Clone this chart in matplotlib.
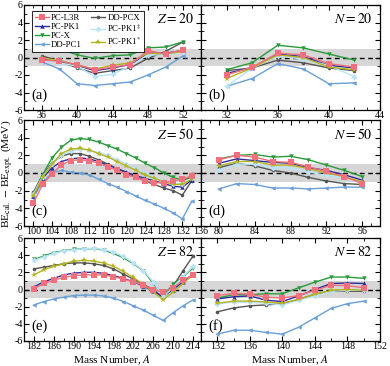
import matplotlib
matplotlib.use("Agg")
import matplotlib.pyplot as plt
from matplotlib.ticker import MultipleLocator

plt.rcParams['font.family'] = ['Liberation Serif', 'DejaVu Serif']
plt.rcParams['mathtext.fontset'] = 'stix'
plt.rcParams['axes.unicode_minus'] = False

# ---------------- data ----------------
series_names = ["PC-L3R", "PC-PK1", "PC-X", "DD-PC1", "DD-PCX", "PC-PK1$^{\\ddag}$", "PC-PK1$^{*}$"]

# (a) Z = 20
A_a = [36, 38, 40, 42, 44, 46, 48, 50, 52]
a_L3R = [-0.3, -0.4, -0.8, -1.4, -1.1, -0.8, 0.8, 0.4, 0.9]
a_PK1 = [-0.2, -0.4, -0.9, -1.5, -1.2, -0.8, 0.5, 0.5, 0.8]
a_X = [1.0, 1.0, 0.3, -0.1, 0.2, 0.3, 1.1, 1.2, 1.8]
a_DDPC1 = [-0.5, -1.3, -3.0, -3.2, -3.0, -2.8, -2.0, -1.1, 0.2]
a_DDPCX = [0.2, -0.4, -1.2, -1.8, -1.5, -1.2, -0.1, 0.7, 1.8]
a_PK1dd = [-0.4, -0.6, -1.0, -2.2, -1.9, -1.0, 0.3, 0.3, 0.6]
a_PK1s = [-0.1, -0.3, -0.9, -1.3, -0.9, -0.6, 0.5, 0.4, 0.7]

# (b) N = 20
A_b = [32, 34, 36, 38, 40, 42]
b_L3R = [-2.0, -1.1, 0.5, 0.3, -0.7, -1.1]
b_PK1 = [-1.8, -1.2, 0.4, 0.1, -0.9, -1.2]
b_X = [-1.4, -0.6, 1.4, 1.1, 0.4, -0.3]
b_DDPC1 = [-3.3, -2.4, -0.7, -1.3, -3.0, -2.9]
b_DDPCX = [-1.5, -1.2, -0.3, -0.6, -1.2, -1.5]
b_PK1dd = [-3.3, -1.2, 0.2, -0.2, -0.9, -2.2]
b_PK1s = [-2.4, -1.2, 0.3, 0.0, -1.1, -1.4]

# (c) Z = 50
A_c = [100, 102, 104, 106, 108, 110, 112, 114, 116, 118, 120, 122, 124, 126, 128, 130, 132, 134]
c_L3R = [-3.4, -1.3, -0.1, 0.9, 1.4, 1.5, 1.4, 1.1, 0.7, 0.3, -0.2, -0.5, -0.9, -1.1, -1.1, -0.9, -0.7, -0.3]
c_PK1 = [-2.6, -0.6, 0.6, 1.3, 1.6, 1.7, 1.6, 1.3, 0.9, 0.5, 0.1, -0.3, -0.6, -0.9, -1.2, -1.5, -1.6, -0.8]
c_X = [-2.5, -0.2, 1.7, 2.9, 3.7, 3.9, 3.8, 3.5, 3.1, 2.7, 2.2, 1.7, 1.1, 0.6, 0.0, -0.5, -0.8, -0.5]
c_DDPC1 = [-2.8, -1.0, 0.0, 0.3, 0.1, 0.0, -0.2, -0.7, -1.2, -1.6, -2.1, -2.6, -3.1, -3.5, -4.0, -4.5, -5.2, -3.2]
c_DDPCX = [-2.2, -0.2, 1.1, 1.9, 2.2, 2.2, 1.9, 1.5, 1.0, 0.5, 0.0, -0.4, -0.9, -1.3, -1.7, -2.0, -2.5, -0.9]
c_PK1dd = [-2.4, -0.4, 1.0, 2.0, 2.5, 2.7, 2.6, 2.3, 2.0, 1.5, 1.0, 0.5, 0.0, -0.5, -0.9, -1.2, -1.2, -0.6]
c_PK1s = [-2.6, -0.5, 1.0, 2.2, 2.7, 2.8, 2.6, 2.2, 1.8, 1.3, 0.8, 0.3, -0.2, -0.6, -1.0, -1.3, -1.3, -0.7]

# (d) N = 50
A_d = [80, 82, 84, 86, 88, 90, 92, 94, 96]
d_L3R = [1.5, 2.0, 1.8, 1.3, 1.2, 0.7, 0.2, -0.4, -1.2]
d_PK1 = [1.1, 1.6, 1.4, 1.2, 1.1, 0.6, 0.3, -0.2, -0.8]
d_X = [1.6, 2.0, 2.1, 1.8, 1.9, 1.5, 0.9, 0.3, -0.4]
d_DDPC1 = [-1.8, -1.2, -1.3, -1.7, -1.7, -1.8, -1.7, -1.6, -1.6]
d_DDPCX = [0.6, 1.1, 0.8, 0.3, 0.0, -0.5, -0.9, -1.2, -1.3]
d_PK1dd = [0.35, 1.0, 1.0, 0.6, 0.6, 0.1, -0.25, -0.5, -1.1]
d_PK1s = [0.8, 1.3, 1.3, 0.9, 0.9, 0.5, 0.0, -0.4, -1.0]

# (e) Z = 82
A_e = [182, 184, 186, 188, 190, 192, 194, 196, 198, 200, 202, 204, 206, 208, 210, 212, 214]
e_L3R = [0.1, 0.7, 1.1, 1.4, 1.6, 1.7, 1.7, 1.7, 1.5, 1.2, 0.9, 0.5, 0.0, -0.3, 0.2, 1.1, 1.7]
e_PK1 = [0.3, 0.9, 1.3, 1.7, 1.9, 2.0, 2.0, 1.9, 1.6, 1.3, 0.9, 0.4, -0.2, -0.8, 0.0, 0.9, 1.8]
e_X = [3.5, 3.9, 4.3, 4.5, 4.7, 4.75, 4.75, 4.6, 4.2, 3.7, 3.0, 2.2, 0.7, -0.7, 0.6, 1.5, 2.5]
e_DDPC1 = [-1.8, -1.4, -1.1, -0.9, -0.7, -0.65, -0.65, -0.75, -1.0, -1.4, -1.9, -2.4, -3.0, -3.6, -2.7, -1.9, -1.2]
e_DDPCX = [2.4, 2.6, 2.8, 3.0, 3.1, 3.1, 3.0, 2.8, 2.4, 1.8, 1.2, 0.6, 0.0, -1.0, 0.4, 2.2, 3.9]
e_PK1dd = [3.4, 3.8, 4.2, 4.5, 4.65, 4.75, 4.8, 4.65, 4.35, 3.85, 3.1, 2.2, 0.9, -0.9, 0.3, 1.5, 2.7]
e_PK1s = [1.7, 2.3, 2.7, 3.0, 3.3, 3.4, 3.3, 3.1, 2.7, 2.1, 1.4, 0.6, -0.3, -1.2, -0.3, 0.7, 1.7]

# (f) N = 82
A_f = [132, 134, 136, 138, 140, 142, 144, 146, 148, 150]
f_L3R = [-0.7, -0.45, -0.55, -0.9, -1.0, -0.7, -0.1, 0.5, 0.45, 0.2]
f_PK1 = [-1.1, -0.85, -0.75, -1.25, -1.4, -0.75, 0.0, 0.7, 0.75, 0.7]
f_X = [-1.0, -0.6, -0.6, -0.5, -0.5, 0.2, 0.85, 1.45, 1.45, 1.3]
f_DDPC1 = [-5.2, -4.75, -4.75, -5.0, -5.2, -4.4, -3.3, -2.2, -1.65, -1.35]
f_DDPCX = [-2.6, -2.15, -1.9, -1.8, -1.65, -1.15, -0.55, -0.2, -0.2, -0.2]
f_PK1dd = [-1.7, -1.45, -1.5, -1.6, -1.8, -1.25, -0.75, -0.2, -0.1, -0.1]
f_PK1s = [-1.6, -1.35, -1.35, -1.45, -1.6, -1.15, -0.55, -0.1, 0.0, -0.1]

panel_labels = ["(a)", "(b)", "(c)", "(d)", "(e)", "(f)"]
panel_titles = ["$Z = 20$", "$N = 20$", "$Z = 50$", "$N = 50$", "$Z = 82$", "$N = 82$"]
x_ticks = [[36, 40, 44, 48, 52], [32, 36, 40, 44], list(range(100, 137, 4)),
           list(range(80, 97, 4)), list(range(182, 215, 4)), list(range(132, 153, 4))]
y_ticks = [-6, -4, -2, 0, 2, 4, 6]

# ---------------- styles ----------------
styles = [
    dict(color='#f0707e', marker='s', ms=4.2, zorder=9),   # PC-L3R
    dict(color='#2d2d9a', marker='^', ms=3.2, zorder=6),   # PC-PK1
    dict(color='#2b9a3c', marker='v', ms=3.2, zorder=5),   # PC-X
    dict(color='#6a9fd8', marker='<', ms=3.2, zorder=3),   # DD-PC1
    dict(color='#555555', marker='o', ms=2.6, zorder=4),   # DD-PCX
    dict(color='#b9e3f8', marker='D', ms=3.0, zorder=7),   # PC-PK1‡
    dict(color='#b5b31e', marker='*', ms=3.8, zorder=8),   # PC-PK1*
]

panels = [
    (A_a, [a_L3R, a_PK1, a_X, a_DDPC1, a_DDPCX, a_PK1dd, a_PK1s], (34, 54), 1),
    (A_b, [b_L3R, b_PK1, b_X, b_DDPC1, b_DDPCX, b_PK1dd, b_PK1s], (30, 44), 1),
    (A_c, [c_L3R, c_PK1, c_X, c_DDPC1, c_DDPCX, c_PK1dd, c_PK1s], (98, 136), 2),
    (A_d, [d_L3R, d_PK1, d_X, d_DDPC1, d_DDPCX, d_PK1dd, d_PK1s], (78, 98), 1),
    (A_e, [e_L3R, e_PK1, e_X, e_DDPC1, e_DDPCX, e_PK1dd, e_PK1s], (180, 215.6), 2),
    (A_f, [f_L3R, f_PK1, f_X, f_DDPC1, f_DDPCX, f_PK1dd, f_PK1s], (130, 152), 2),
]

fig = plt.figure(figsize=(3.9, 3.66), dpi=100)
W, H = 390.0, 366.0
col_x = [(24, 201), (201, 380)]
row_y = [(5, 110), (120, 226), (238, 341)]

axes = []
for i, (A, ys, xl, minor) in enumerate(panels):
    r, c = divmod(i, 2)
    x0, x1 = col_x[c]
    y0, y1 = row_y[r]
    ax = fig.add_axes([x0 / W, 1 - y1 / H, (x1 - x0) / W, (y1 - y0) / H])
    axes.append(ax)
    ax.axhspan(-1, 1, color='#d6d6d6', zorder=0, lw=0)
    ax.axhline(0, color='black', ls=(0, (3.5, 2.5)), lw=1.0, zorder=1)
    for name, y, st in zip(series_names, ys, styles):
        ax.plot(A, y, color=st['color'], marker=st['marker'], ms=st['ms'],
                lw=1.0, zorder=st['zorder'], label=name, mew=0)
    ax.set_xlim(*xl)
    ax.set_ylim(-6, 6)
    ax.set_xticks(x_ticks[i])
    ax.xaxis.set_minor_locator(MultipleLocator(minor))
    ax.set_yticks(y_ticks)
    ax.yaxis.set_minor_locator(MultipleLocator(1))
    ax.tick_params(which='both', direction='in', top=True, right=True, labelsize=7.2, pad=1.0)
    ax.tick_params(which='major', length=3.5, width=0.8)
    ax.tick_params(which='minor', length=2, width=0.6)
    if c == 1:
        ax.set_yticklabels([])
    for sp in ax.spines.values():
        sp.set_linewidth(0.9)
    ax.text(0.04, 0.08, panel_labels[i], transform=ax.transAxes, fontsize=10.5,
            ha='left', va='bottom', zorder=20)
    ax.text(0.96, 0.93, panel_titles[i], transform=ax.transAxes, fontsize=10,
            ha='right', va='top', zorder=20)

leg = axes[0].legend(loc='upper left', ncol=2, fontsize=6.3, frameon=True,
                     fancybox=False, edgecolor='black', framealpha=1,
                     handlelength=1.6, handletextpad=0.3, columnspacing=1.0,
                     labelspacing=0.1, borderpad=0.3, bbox_to_anchor=(0.02, 0.98))
leg.get_frame().set_linewidth(0.6)
leg.set_zorder(30)

for c in range(2):
    x0, x1 = col_x[c]
    fig.text((x0 + x1) / 2 / W, 1 - 360.5 / H, "Mass Number, $A$", fontsize=8.2,
             ha='center', va='center')
fig.text(7.5 / W, 1 - 174 / H, "BE$_{\\rm cal.}$ $-$ BE$_{\\rm expt.}$ (MeV)", fontsize=8.2,
         rotation=90, ha='center', va='center')

fig.savefig("out.png", dpi=100)
